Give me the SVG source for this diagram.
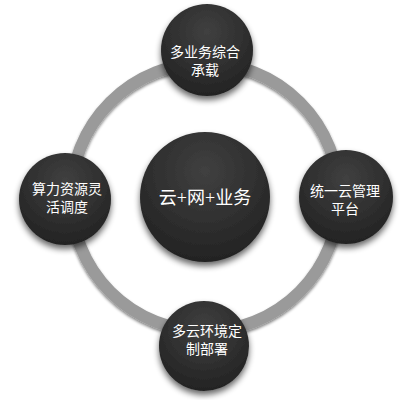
<svg xmlns="http://www.w3.org/2000/svg" width="411" height="400" viewBox="0 0 411 400">
  <defs>
    <radialGradient id="ball" cx="50%" cy="30%" r="70%">
      <stop offset="0" stop-color="#404040"/>
      <stop offset="1" stop-color="#232323"/>
    </radialGradient>
    <filter id="sh" x="-30%" y="-30%" width="160%" height="170%">
      <feGaussianBlur in="SourceAlpha" stdDeviation="3"/>
      <feOffset dx="0" dy="4" result="b"/>
      <feComponentTransfer><feFuncA type="linear" slope="0.6"/></feComponentTransfer>
      <feMerge><feMergeNode/><feMergeNode in="SourceGraphic"/></feMerge>
    </filter>
    <filter id="rsh" x="-20%" y="-20%" width="140%" height="140%">
      <feGaussianBlur in="SourceAlpha" stdDeviation="1.5"/>
      <feOffset dx="0" dy="2"/>
      <feComponentTransfer><feFuncA type="linear" slope="0.5"/></feComponentTransfer>
      <feMerge><feMergeNode/><feMergeNode in="SourceGraphic"/></feMerge>
    </filter>
  </defs>
  <style>
    .node { fill: url(#ball); filter: url(#sh); }
    .t { fill: #ffffff; font-family: "Liberation Serif", "Noto Sans CJK SC", serif; font-size: 14px; text-anchor: middle; }
    .tc { font-size: 18px; }
  </style>
  <rect width="411" height="400" fill="#ffffff"/>
  <g id="connectors">
    <circle cx="205" cy="197" r="134" fill="none" stroke="#9a9a9a" stroke-width="12" filter="url(#rsh)"/>
  </g>
  <g id="center">
    <circle class="node" cx="205" cy="197" r="65"/>
    <text class="t tc" x="205" y="204">云+网+业务</text>
  </g>
  <g id="top">
    <circle class="node" cx="207" cy="50" r="46"/>
    <text class="t" x="205" y="57">多业务综合</text>
    <text class="t" x="205" y="75">承载</text>
  </g>
  <g id="left">
    <circle class="node" cx="65" cy="199" r="46"/>
    <text class="t" x="67" y="194">算力资源灵</text>
    <text class="t" x="67" y="212">活调度</text>
  </g>
  <g id="right">
    <circle class="node" cx="346" cy="197" r="47"/>
    <text class="t" x="345" y="196">统一云管理</text>
    <text class="t" x="345" y="214">平台</text>
  </g>
  <g id="bottom">
    <circle class="node" cx="204" cy="346" r="45"/>
    <text class="t" x="207" y="336">多云环境定</text>
    <text class="t" x="207" y="354">制部署</text>
  </g>
</svg>
